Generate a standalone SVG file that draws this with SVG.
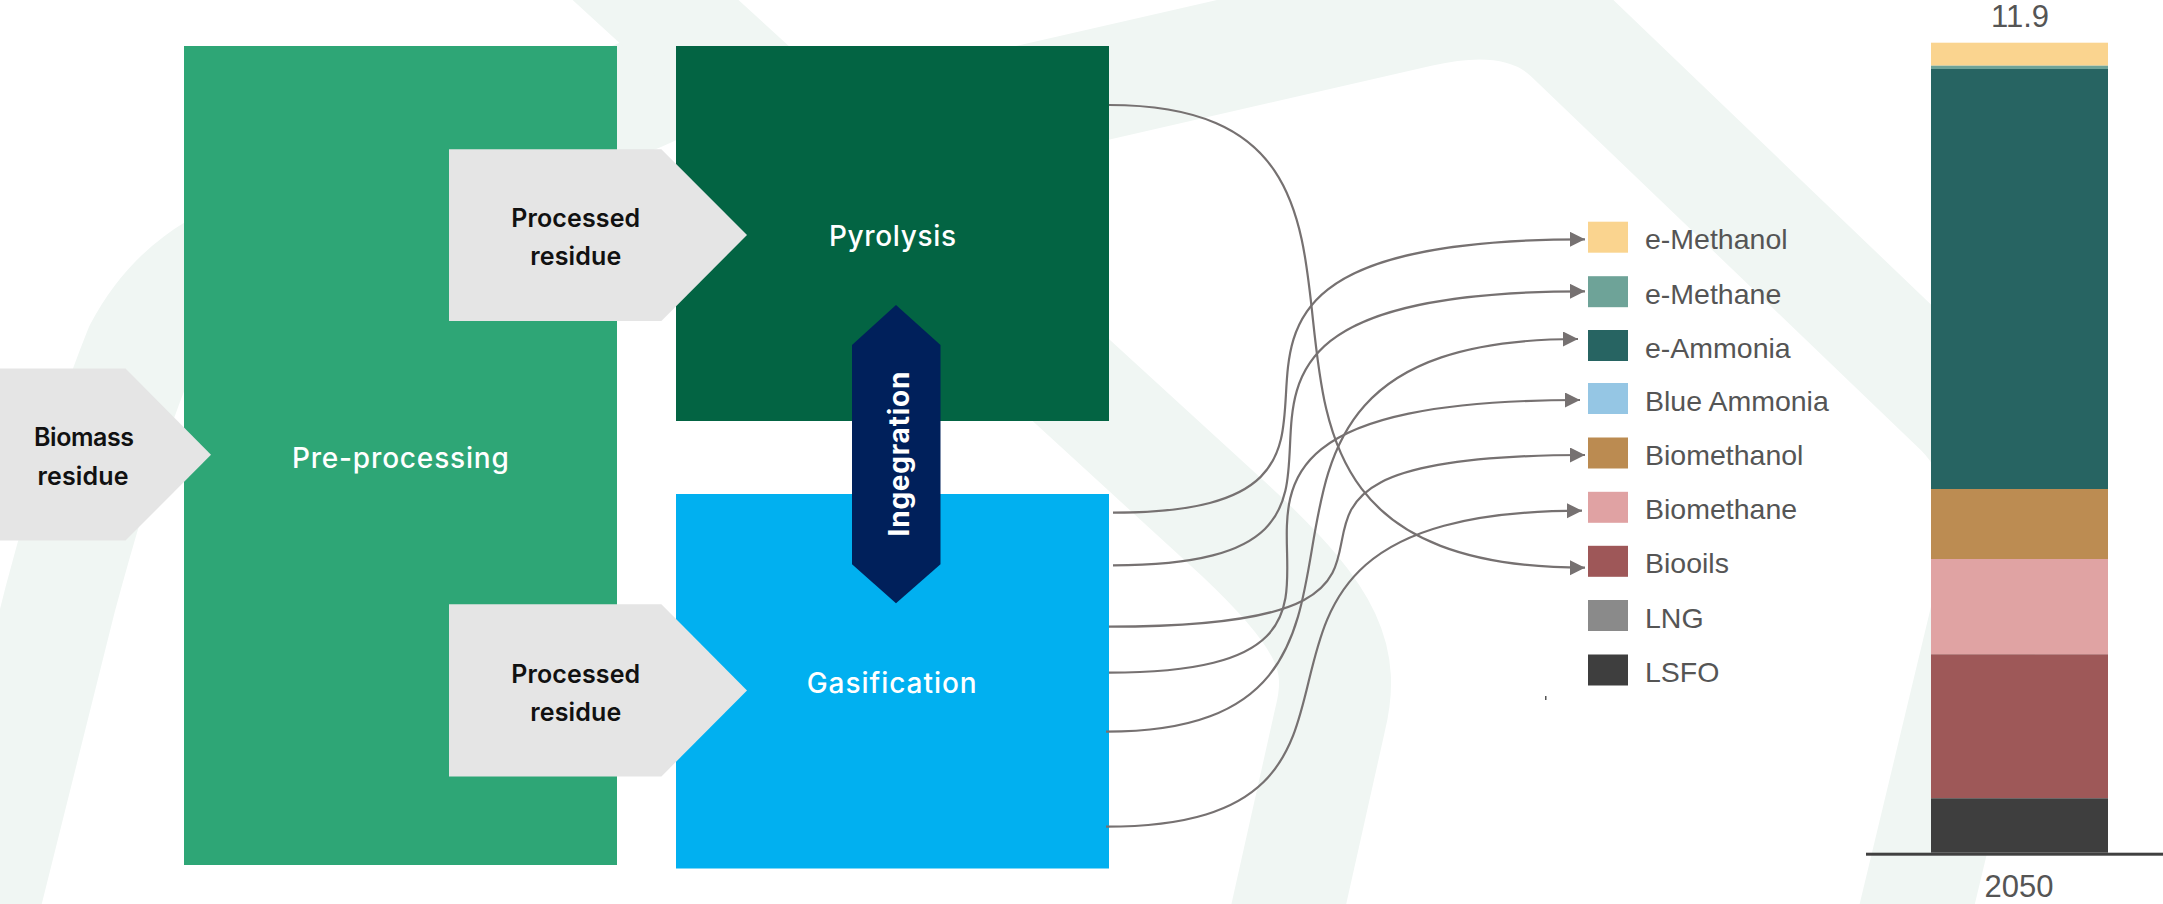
<svg xmlns="http://www.w3.org/2000/svg" width="2163" height="904" viewBox="0 0 2163 904">
<defs>
<style>
.wm{fill:none;stroke:#f0f6f3;stroke-width:112;stroke-linecap:butt;stroke-linejoin:round}
.conn{fill:none;stroke:#767171;stroke-width:2.2;marker-end:url(#ah)}
.dk{font-family:Inter,"Liberation Sans",sans-serif;font-weight:600;font-size:25px;fill:#111;text-anchor:middle}
.wt{font-family:Inter,"Liberation Sans",sans-serif;font-weight:500;font-size:28px;fill:#fff;text-anchor:middle}
.leg{font-family:"Liberation Sans",Arial,sans-serif;font-size:28.5px;fill:#555}
.num{font-family:"Liberation Sans",Arial,sans-serif;font-size:31px;fill:#555;text-anchor:middle}
.gray{fill:#e5e5e5}
</style>
<marker id="ah" markerWidth="16" markerHeight="16" refX="15" refY="7.5" orient="auto" markerUnits="userSpaceOnUse">
<path d="M0,0 L15,7.5 L0,15 z" fill="#767171"/>
</marker>
</defs>
<rect width="2163" height="904" fill="#fff"/>
<g id="watermark">
<path class="wm" d="M-30,960 L60,600 Q100,450 140,350 Q185,265 280,245 L640,95 Q700,70 700,40"/>
<path class="wm" d="M590,-60 L1240,535 C1330,620 1345,660 1330,720 L1283,930"/>
<path class="wm" d="M900,130 L1420,11 Q1520,-12 1570,36 L1960,410 Q2020,470 1995,580 L1911,930"/>
</g>
<g id="pre-processing">
<rect x="184" y="46" width="433" height="819" fill="#2ea676"/>
<text class="wt" x="400.4" y="468.3" font-size="30" textLength="217">Pre-processing</text>
</g>
<g id="biomass-residue">
<polygon class="gray" points="0,368.5 125.5,368.5 211,454.8 125.5,540.6 0,540.6"/>
<text class="dk" x="84" y="446.4" textLength="100">Biomass</text>
<text class="dk" x="83" y="485" textLength="91">residue</text>
</g>
<g id="pyrolysis">
<rect x="676" y="46" width="433" height="375" fill="#036443"/>
<text class="wt" x="892.5" y="246" textLength="127">Pyrolysis</text>
</g>
<g id="gasification">
<rect x="676" y="494" width="433" height="374.5" fill="#01b0f0"/>
<text class="wt" x="891.7" y="693.3" textLength="170">Gasification</text>
</g>
<g id="processed-residue-1">
<polygon class="gray" points="449,149.3 661.4,149.3 747,235 661.4,321 449,321"/>
<text class="dk" x="575.7" y="227.3" textLength="129">Processed</text>
<text class="dk" x="575.7" y="265" textLength="91">residue</text>
</g>
<g id="processed-residue-2">
<polygon class="gray" points="449,604.3 661.4,604.3 747,690.4 661.4,776.5 449,776.5"/>
<text class="dk" x="575.7" y="682.5" textLength="129">Processed</text>
<text class="dk" x="575.7" y="720.5" textLength="91">residue</text>
</g>
<g id="integration">
<polygon points="896,305 940.5,345 940.5,564.3 896,603.3 852,564.3 852,345" fill="#00205b"/>
<text transform="translate(909.3,454) rotate(-90)" x="0" y="0" text-anchor="middle" font-family="Inter,'Liberation Sans',sans-serif" font-weight="700" font-size="28" fill="#fff" textLength="165">Ingegration</text>
</g>
<g id="connectors">
<path class="conn" d="M1109,105 C1491,105 1117,567.7 1585,567.7"/>
<path class="conn" d="M1113,512.7 C1480,512.7 1053,239.3 1585,239.3"/>
<path class="conn" d="M1113,565.3 C1489,565.3 1054,291.3 1585,291.3"/>
<path class="conn" d="M1109,626.7 C1546,626.7 1134,455 1585,455"/>
<path class="conn" d="M1109,672.7 C1504,672.7 1031,400 1580,400"/>
<path class="conn" d="M1106,731.7 C1474,731.7 1136,339 1578,339"/>
<path class="conn" d="M1106,826.7 C1461,826.7 1141,510.7 1582,510.7"/>
</g>
<g id="legend">
<rect x="1588" y="221.7" width="40" height="31" fill="#fad48f"/>
<text class="leg" x="1645" y="249.3">e-Methanol</text>
<rect x="1588" y="276.2" width="40" height="31" fill="#6ea398"/>
<text class="leg" x="1645" y="303.7">e-Methane</text>
<rect x="1588" y="330" width="40" height="31" fill="#276462"/>
<text class="leg" x="1645" y="357.5">e-Ammonia</text>
<rect x="1588" y="383" width="40" height="31" fill="#95c6e4"/>
<text class="leg" x="1645" y="410.5">Blue Ammonia</text>
<rect x="1588" y="437.5" width="40" height="31" fill="#bb8b51"/>
<text class="leg" x="1645" y="465">Biomethanol</text>
<rect x="1588" y="491.8" width="40" height="31" fill="#e0a2a3"/>
<text class="leg" x="1645" y="519.3">Biomethane</text>
<rect x="1588" y="545.8" width="40" height="31" fill="#9e5758"/>
<text class="leg" x="1645" y="573.3">Biooils</text>
<rect x="1588" y="600" width="40" height="31" fill="#8a8a8a"/>
<text class="leg" x="1645" y="627.5">LNG</text>
<rect x="1588" y="654.5" width="40" height="31" fill="#3e3e3e"/>
<text class="leg" x="1645" y="682">LSFO</text>
<rect x="1545" y="696" width="1.5" height="4" fill="#555"/>
</g>
<g id="bar-chart">
<text class="num" x="2020" y="26.7">11.9</text>
<rect x="1931" y="42.7" width="177" height="23" fill="#fad48f"/>
<rect x="1931" y="65.7" width="177" height="3.3" fill="#6ea398"/>
<rect x="1931" y="69" width="177" height="420" fill="#276462"/>
<rect x="1931" y="489" width="177" height="70" fill="#bc8c52"/>
<rect x="1931" y="559" width="177" height="95.3" fill="#e0a3a3"/>
<rect x="1931" y="654.3" width="177" height="144" fill="#9e5858"/>
<rect x="1931" y="798.3" width="177" height="54.4" fill="#3e3e3e"/>
<rect x="1866" y="852.7" width="297" height="3" fill="#404040"/>
<text class="num" x="2019" y="896.7">2050</text>
</g>
</svg>
